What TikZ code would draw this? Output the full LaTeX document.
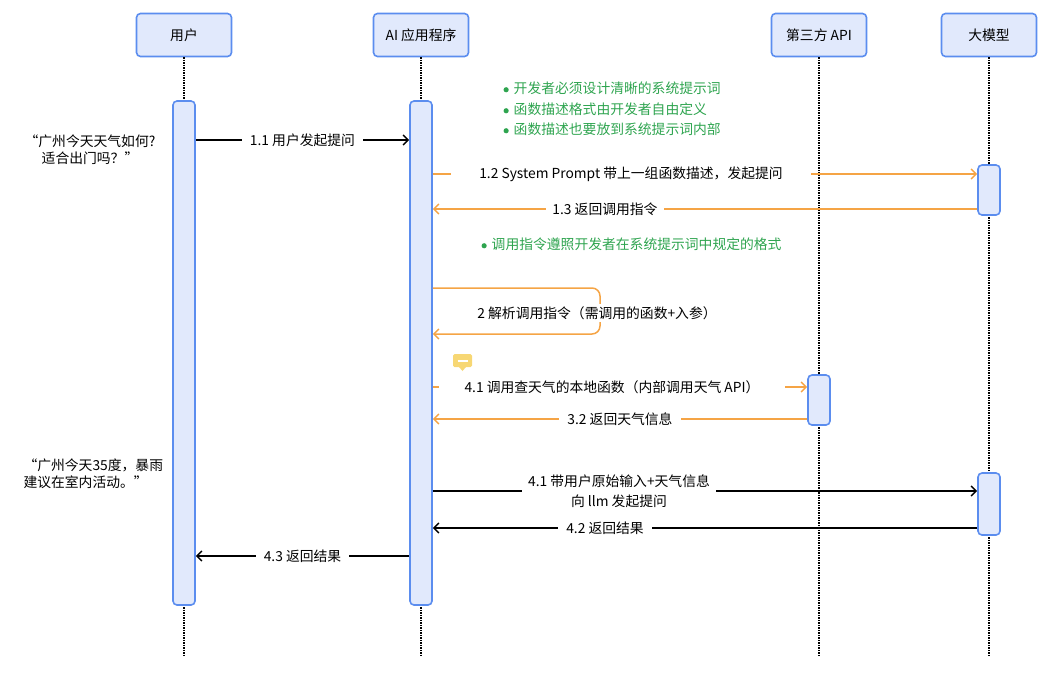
\documentclass[tikz,border=0pt]{standalone}
\usepackage{fontspec}
\setmainfont{Noto Sans CJK SC}
\usetikzlibrary{arrows.meta,positioning}
\definecolor{lineblue}{HTML}{5B8DEF}
\definecolor{boxfill}{HTML}{E1E9FC}
\definecolor{callorange}{HTML}{F5A445}
\definecolor{notegreen}{HTML}{2EA44F}
\definecolor{iconyellow}{HTML}{F7D774}
\newcommand{\greendot}{\tikz[baseline=-3.5pt]\fill (0,0) circle (2.6pt);\hspace{5pt}}
\begin{document}
\begin{tikzpicture}[x=1pt,y=-1pt,font=\fontsize{13.8}{17}\selectfont]
    % Define styles
    \tikzset{
        actor/.style={rectangle, rounded corners=4pt, draw=lineblue, line width=1.6pt, fill=boxfill, minimum width=95pt, minimum height=43pt},
        bar/.style={rectangle, rounded corners=4pt, draw=lineblue, line width=1.6pt, fill=boxfill, minimum width=22pt},
        life/.style={densely dotted, line width=1.5pt},
        msg/.style={-{Straight Barb[length=5pt,width=10pt]}, line width=1.5pt},
        ret/.style={msg, callorange},
        lbl/.style={fill=white, inner xsep=8pt, inner ysep=2pt, text=black},
        note/.style={text=notegreen, anchor=west}
    }
    \useasboundingbox (0,0) rectangle (1059,673);

    % Actors
    \node[actor] (user) at (184,35) {用户};
    \node[actor] (app) at (421,35) {AI 应用程序};
    \node[actor] (api) at (819,35) {第三方 API};
    \node[actor] (llm) at (989,35) {大模型};

    % Lifelines
    \foreach \n/\x in {user/184, app/421, api/819, llm/989}
        \draw[life] (\n.south) -- (\x,657);

    % Activation bars
    \node[bar, minimum height=504pt] (userbar) at (184,353) {};
    \node[bar, minimum height=504pt] (appbar) at (421,353) {};
    \node[bar, minimum height=50pt] (llmbar1) at (989,190) {};
    \node[bar, minimum height=62pt] (llmbar2) at (989,504) {};
    \node[bar, minimum height=50pt] (apibar) at (819,400) {};

    % Left texts
    \node[align=center] (ask) at (90,150) {“广州今天天气如何?\\适合出门吗？”};
    \node[align=left, anchor=west] (answer) at (20,474) {“广州今天35度，暴雨\\建议在室内活动。”};

    % Notes
    \foreach \t/\y in {开发者必须设计清晰的系统提示词/88, 函数描述格式由开发者自由定义/109, 函数描述也要放到系统提示词内部/129}
        \node[note] at (500,\y) {\greendot\t};
    \node[note] (rule) at (478,244) {\greendot 调用指令遵照开发者在系统提示词中规定的格式};

    % Connections
    \draw[msg] (userbar.east |- 0,140) -- node[lbl] {1.1 用户发起提问} (appbar.west |- 0,140);
    \draw[ret] (appbar.east |- 0,174) -- node[lbl, inner xsep=28pt, xshift=-74pt] {1.2 System Prompt 带上一组函数描述，发起提问} (llmbar1.west |- 0,174);
    \draw[ret] (llmbar1.west |- 0,209) -- node[lbl, inner xsep=6pt, xshift=-100pt] {1.3 返回调用指令} (appbar.east |- 0,209);
    \coordinate (loopa) at (600,288);
    \coordinate (loopb) at (600,334);
    \draw[ret, rounded corners=8pt] (appbar.east |- 0,288) -- (loopa) -- (loopb) -- (appbar.east |- 0,334);
    \node[lbl, inner xsep=6pt] (parse) at (597,313) {2 解析调用指令（需调用的函数+入参）};
    \draw[ret] (appbar.east |- 0,387) -- node[lbl, inner xsep=26pt, xshift=-8pt] {4.1 调用查天气的本地函数（内部调用天气 API）} (apibar.west |- 0,387);
    \draw[ret] (apibar.west |- 0,419) -- node[lbl] {3.2 返回天气信息} (appbar.east |- 0,419);
    \draw[msg] (appbar.east |- 0,491) -- node[lbl, align=center, inner xsep=6pt, xshift=-86pt, font=\fontsize{13.8}{20}\selectfont] {4.1 带用户原始输入+天气信息\\向 llm 发起提问} (llmbar2.west |- 0,491);
    \draw[msg] (llmbar2.west |- 0,528) -- node[lbl, xshift=-100pt] {4.2 返回结果} (appbar.east |- 0,528);
    \draw[msg] (appbar.west |- 0,556) -- node[lbl] {4.3 返回结果} (userbar.east |- 0,556);

    % Comment icon
    \fill[iconyellow, rounded corners=1.5pt] (453,354) rectangle (472,367);
    \fill[iconyellow] (459,367) -- (466,367) -- (462.5,371) -- cycle;
    \draw[white, line width=1.5pt] (457.5,361) -- (467.5,361);
\end{tikzpicture}
\end{document}
